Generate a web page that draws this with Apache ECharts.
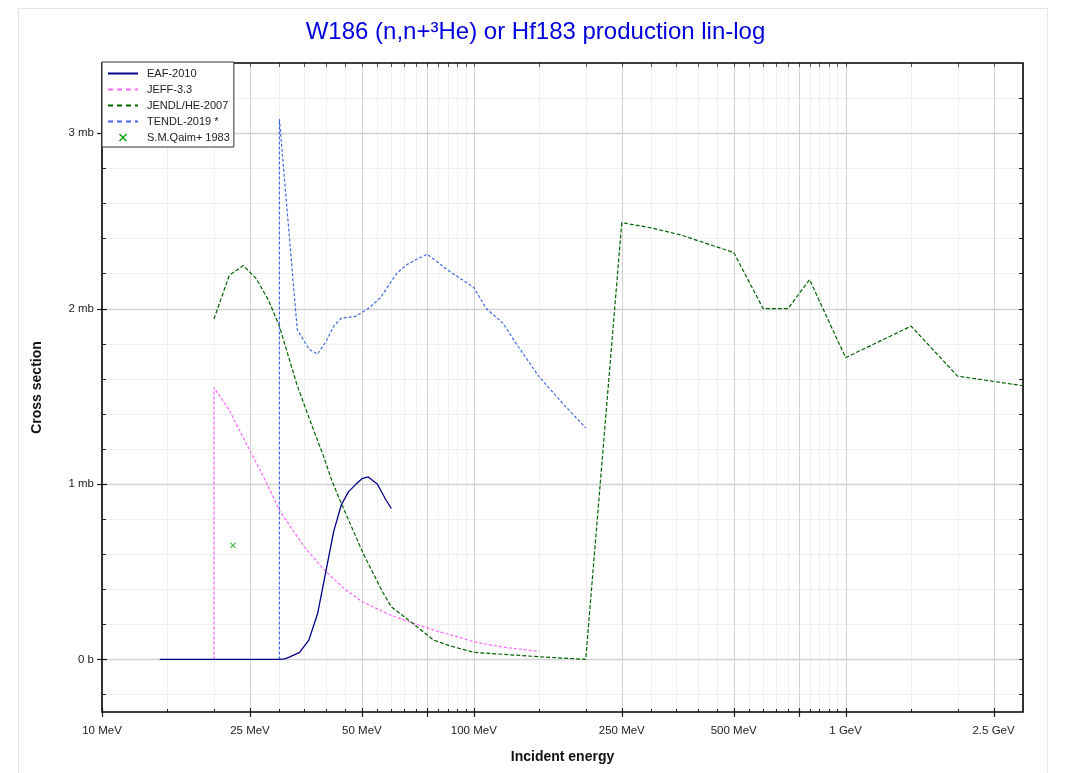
<!DOCTYPE html>
<html><head><meta charset="utf-8">
<script src="https://cdn.jsdelivr.net/npm/echarts@6/dist/echarts.min.js"></script>
<style>html,body{margin:0;padding:0;background:#fff}#c{width:1071px;height:773px}</style>
</head><body><div id="c"></div>
<script>
// ---- data (energy in MeV, cross section in mb) ----
const eaf2010 = [[14.3,0],[20,0],[25,0],[30,0],[31,0.003],[32,0.014],[34,0.04],[36,0.11],[38,0.26],[40,0.5],[42,0.73],[44,0.88],[46,0.955],[48,0.995],[50,1.03],[52,1.04],[55,1.0],[58,0.91],[60,0.86]];
const jeff33 = [[20,0],[20,1.55],[22,1.42],[25,1.19],[27.5,1.02],[30,0.85],[35,0.64],[40,0.5],[45,0.4],[50,0.33],[60,0.25],[70,0.2],[80,0.16],[90,0.13],[100,0.1],[120,0.07],[150,0.045]];
const jendlHe2007 = [[20,1.94],[22,2.19],[24,2.245],[26,2.17],[28,2.05],[30,1.9],[33.4,1.57],[36,1.38],[39.4,1.16],[41.5,1.02],[44,0.89],[50.5,0.6],[57,0.38],[60,0.3],[69,0.2],[78,0.11],[86,0.078],[100,0.04],[150,0.015],[200,0],[250,2.49],[300,2.46],[360,2.42],[410,2.38],[500,2.32],[600,2.0],[700,2.0],[800,2.165],[1000,1.72],[1500,1.9],[2000,1.615],[3000,1.56]];
const tendl2019 = [[30,0],[30,3.08],[33.5,1.88],[36,1.77],[38,1.74],[40,1.81],[42,1.9],[44,1.945],[48,1.955],[52,2.0],[56,2.06],[62,2.2],[66,2.25],[70,2.28],[75,2.31],[85,2.22],[100,2.12],[108,2.0],[120,1.915],[130,1.8],[150,1.61],[175,1.45],[200,1.32]];
const qaim1983 = [[22.5,0.65]];

const seriesNames = ['EAF-2010','JEFF-3.3','JENDL/HE-2007','TENDL-2019 *','S.M.Qaim+ 1983'];
const xTickValues = [10,25,50,100,250,500,1000,2500];
const xTickLabels = ['10 MeV','25 MeV','50 MeV','100 MeV','250 MeV','500 MeV','1 GeV','2.5 GeV'];
const xMajorGrid = [10,25,50,75,100,250,500,750,1000,2500];
const xMinorGrid = [15,20,30,35,40,45,55,60,65,70,80,85,90,95,150,200,300,350,400,450,550,600,650,700,800,850,900,950,1500,2000];
const yTickValues = [0,1,2,3];
const yTickLabels = ['0 b','1 mb','2 mb','3 mb'];
const yMinorGrid = [-0.2,0.2,0.4,0.6,0.8,1.2,1.4,1.6,1.8,2.2,2.4,2.6,2.8,3.2];

const FONT = 'Liberation Sans, Arial, Helvetica, sans-serif';
const xMark = 'path://M0,1.2L1.2,0L5,3.8L8.8,0L10,1.2L6.2,5L10,8.8L8.8,10L5,6.2L1.2,10L0,8.8L3.8,5Z';

function renderDecor(params, api) {
  if (params.dataIndex !== 0) return null;
  const cs = params.coordSys;
  const x0 = Math.round(cs.x), y0 = Math.round(cs.y);
  const x1 = Math.round(cs.x + cs.width), y1 = Math.round(cs.y + cs.height);
  const ch = [];
  const ln = (ax, ay, bx, by, stroke, w) => ch.push({type:'line', silent:true,
    shape:{x1:ax,y1:ay,x2:bx,y2:by}, style:{stroke:stroke, lineWidth:w}});
  const px = v => Math.round(api.coord([v, 0])[0]) + 0.5;
  const py = v => Math.round(api.coord([10, v])[1]) + 0.5;
  // grid lines
  xMinorGrid.forEach(v => { const p = px(v); ln(p, y0, p, y1, '#efefef', 1); });
  yMinorGrid.forEach(v => { const p = py(v); ln(x0, p, x1, p, '#efefef', 1); });
  xMajorGrid.forEach(v => { const p = px(v); if (p > x0 + 1) ln(p, y0, p, y1, '#d2d2d2', 1); });
  yTickValues.forEach(v => { const p = py(v); ln(x0, p, x1, p, '#d2d2d2', 1.3); });
  // ticks
  const tc = '#222';
  xMinorGrid.forEach(v => { const p = px(v); ln(p, y1, p, y1 - 3, tc, 1); ln(p, y0, p, y0 + 4, '#555', 1); });
  xMajorGrid.forEach(v => { const p = px(v); ln(p, y1 - 4, p, y1 + 5, tc, 1.2); ln(p, y0, p, y0 + 4, '#555', 1); });
  yMinorGrid.forEach(v => { const p = py(v); ln(x0, p, x0 + 4, p, tc, 1); ln(x1, p, x1 - 4, p, tc, 1); });
  yTickValues.forEach(v => { const p = py(v); ln(x0 - 5, p, x0 + 5, p, tc, 1.2); ln(x1, p, x1 - 4, p, tc, 1); });
  // frame
  ch.push({type:'rect', silent:true, shape:{x:x0, y:y0, width:x1 - x0, height:y1 - y0},
    style:{fill:null, stroke:'#000', lineWidth:1.6}});
  return {type:'group', children:ch};
}

const legendData = seriesNames.map((n, i) => i === 0
  ? {name:n, itemStyle:{opacity:0}}
  : i < 4
    ? {name:n, itemStyle:{opacity:0}, lineStyle:{type:[5,4], width:2}}
    : {name:n, itemStyle:{opacity:1, color:'#00a000'}});

const chart = echarts.init(document.getElementById('c'), null, {renderer:'canvas'});
chart.setOption({
  animation: false,
  backgroundColor: '#fff',
  graphic: [{type:'rect', z:-10, silent:true, shape:{x:18.5, y:8.5, width:1029, height:800},
    style:{fill:null, stroke:'#e6e6e6', lineWidth:1}}],
  title: {text:'W186 (n,n+³He) or Hf183 production lin-log', left:'center', top:20, padding:0,
    textStyle:{color:'#0000dd', fontSize:24, fontWeight:'normal', fontFamily:FONT}},
  grid: {left:102, right:48, top:63, bottom:61, show:false},
  legend: {
    data: legendData, orient:'vertical', left:102, top:62,
    padding:[6,4,4,5], itemWidth:30, itemHeight:8, itemGap:5,
    backgroundColor:'#fff', borderColor:'#333', borderWidth:1,
    textStyle:{fontSize:11, color:'#222', fontFamily:FONT, padding:[0,0,0,4]},
    lineStyle:{width:2}
  },
  xAxis: {
    type:'log', logBase:10, min:10, max:3000,
    name:'Incident energy', nameLocation:'middle', nameGap:38,
    nameTextStyle:{fontSize:14, fontWeight:'bold', color:'#111', fontFamily:FONT},
    axisLine:{show:false}, axisTick:{show:false}, splitLine:{show:false}, minorTick:{show:false},
    axisLabel:{customValues:xTickValues, margin:13, fontSize:11.5, color:'#222', fontFamily:FONT,
      formatter: v => { const i = xTickValues.findIndex(t => Math.abs(t - v) < 1e-6 * t); return i >= 0 ? xTickLabels[i] : ''; }}
  },
  yAxis: {
    type:'value', min:-0.3, max:3.4,
    name:'Cross section', nameLocation:'middle', nameGap:58, nameRotate:90,
    nameTextStyle:{fontSize:14, fontWeight:'bold', color:'#111', fontFamily:FONT},
    axisLine:{show:false}, axisTick:{show:false}, splitLine:{show:false},
    axisLabel:{customValues:yTickValues, margin:8, fontSize:11.5, color:'#222', fontFamily:FONT,
      formatter: v => { const i = yTickValues.findIndex(t => Math.abs(t - v) < 1e-6); return i >= 0 ? yTickLabels[i] : ''; }}
  },
  series: [
    {type:'custom', name:'_decor', z:1, clip:false, silent:true, data:[[10,0]], encode:{x:0,y:1}, renderItem:renderDecor},
    {type:'line', name:seriesNames[0], data:eaf2010, z:5, symbol:'none', color:'#00008b',
      lineStyle:{color:'#00008b', width:1.3, type:'solid'}},
    {type:'line', name:seriesNames[1], data:jeff33, z:4, symbol:'none', color:'#ff66ff',
      lineStyle:{color:'#ff66ff', width:1.2, type:[3,2]}},
    {type:'line', name:seriesNames[2], data:jendlHe2007, z:4, symbol:'none', color:'#006400',
      lineStyle:{color:'#006400', width:1.2, type:[4,2]}},
    {type:'line', name:seriesNames[3], data:tendl2019, z:4, symbol:'none', color:'#4169e1',
      lineStyle:{color:'#4169e1', width:1.2, type:[3,2]}},
    {type:'scatter', name:seriesNames[4], data:qaim1983, z:6, symbol:xMark, symbolSize:6,
      color:'#00a000', itemStyle:{color:'#00a000'}}
  ]
});
</script></body></html>
